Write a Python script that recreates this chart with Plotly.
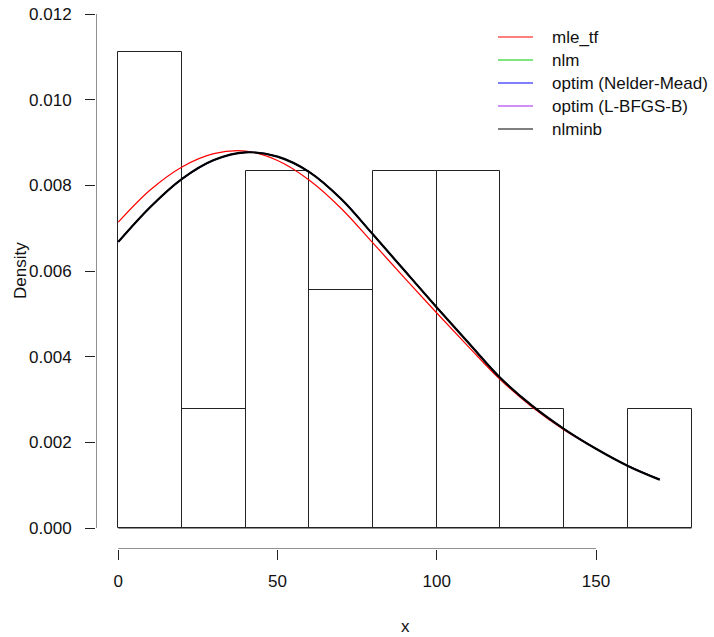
import plotly.graph_objects as go

# Histogram data (bin edges 0..180, width 20)
bin_left = [0, 20, 40, 60, 80, 100, 120, 140, 160]
bin_width = 20
density = [0.011111, 0.002778, 0.008333, 0.005556, 0.008333, 0.008333, 0.002778, 0.0, 0.002778]

# Fitted density curves
curve_x = [0, 10, 20, 30, 40, 50, 60, 70, 80, 90, 100, 110, 120, 130, 140, 150, 160, 170]
mle_tf = [0.00714, 0.00789, 0.00843, 0.00874, 0.00880, 0.00858, 0.00812, 0.00746, 0.00665,
          0.00583, 0.00502, 0.00423, 0.00346, 0.00282, 0.00229, 0.00185, 0.00145, 0.00113]
fit_other = [0.00668, 0.00749, 0.00815, 0.00859, 0.00877, 0.00867, 0.00831, 0.00768, 0.00685,
             0.00600, 0.00515, 0.00432, 0.00350, 0.00285, 0.00231, 0.00185, 0.00145, 0.00113]

series_names = ["mle_tf", "nlm", "optim (Nelder-Mead)", "optim (L-BFGS-B)", "nlminb"]
series_colors = ["#ff0000", "#00cc00", "#0000ff", "#a020f0", "#000000"]
series_values = [mle_tf, fit_other, fit_other, fit_other, fit_other]

x_ticks = [0, 50, 100, 150]
y_ticks = [0.000, 0.002, 0.004, 0.006, 0.008, 0.010, 0.012]
y_tick_labels = ["0.000", "0.002", "0.004", "0.006", "0.008", "0.010", "0.012"]

FONT = "Liberation Sans, Arial, sans-serif"
FS = 17

# plot-area geometry (pixels)
ML, MT, PW, PH = 96, 0, 618, 549


def px_x(px):
    return (px - ML) / PW


def px_y(py):
    return (MT + PH - py) / PH


fig = go.Figure()
fig.add_trace(go.Bar(
    x=[b + bin_width / 2 for b in bin_left], y=density, width=bin_width,
    marker=dict(color="rgba(255,255,255,0)", line=dict(color="#222", width=1)),
    showlegend=False, hoverinfo="skip"))

for name, col, vals in zip(series_names, series_colors, series_values):
    fig.add_trace(go.Scatter(
        x=curve_x, y=vals, mode="lines", name=name, showlegend=False,
        line=dict(color=col, width=2.2 if name == "nlminb" else 1.2, shape="spline", smoothing=1.0)))

XR = [-7.0, 187.05]
YR = [-0.00049, 0.012327]

shapes = [
    dict(type="line", xref="x", yref="y", x0=x_ticks[0], x1=x_ticks[-1], y0=YR[0], y1=YR[0],
         line=dict(color="#222", width=1)),
    dict(type="line", xref="x", yref="y", x0=XR[0], x1=XR[0], y0=y_ticks[0], y1=y_ticks[-1],
         line=dict(color="#222", width=1)),
    dict(type="line", xref="x", yref="y", x0=bin_left[0], x1=bin_left[-1] + bin_width, y0=0, y1=0,
         line=dict(color="#222", width=1)),
]

annotations = [
    dict(text="x", xref="paper", yref="paper", x=0.5, y=px_y(626),
         showarrow=False, xanchor="center", yanchor="middle", font=dict(size=FS)),
    dict(text="Density", xref="paper", yref="paper", x=px_x(20), y=px_y(271),
         showarrow=False, textangle=-90, xanchor="center", yanchor="middle", font=dict(size=FS)),
]

# R-style legend (no box), top right
leg_y0, leg_dy = 37, 23
for i, (name, col) in enumerate(zip(series_names, series_colors)):
    yy = px_y(leg_y0 + i * leg_dy)
    shapes.append(dict(type="line", xref="paper", yref="paper", x0=px_x(498), x1=px_x(533),
                       y0=yy, y1=yy, line=dict(color=col, width=1.2)))
    annotations.append(dict(text=name, xref="paper", yref="paper", x=px_x(550), y=yy,
                            showarrow=False, xanchor="left", yanchor="middle",
                            font=dict(size=FS)))

fig.update_layout(
    width=714, height=637,
    margin=dict(l=ML, r=0, t=MT, b=637 - MT - PH),
    plot_bgcolor="white", paper_bgcolor="white",
    font=dict(family=FONT, size=FS, color="#111"),
    bargap=0,
    showlegend=False,
    xaxis=dict(range=XR, showgrid=False, zeroline=False, showline=False,
               tickmode="array", tickvals=x_ticks, ticktext=[str(v) for v in x_ticks],
               ticks="outside", ticklen=10, tickcolor="#222", tickwidth=1,
               ticklabelstandoff=7, tickfont=dict(size=FS)),
    yaxis=dict(range=YR, showgrid=False, zeroline=False, showline=False,
               tickmode="array", tickvals=y_ticks, ticktext=y_tick_labels,
               ticks="outside", ticklen=10, tickcolor="#222", tickwidth=1,
               ticklabelstandoff=10, tickfont=dict(size=FS)),
    shapes=shapes,
    annotations=annotations,
)

fig.write_html("out.html")
